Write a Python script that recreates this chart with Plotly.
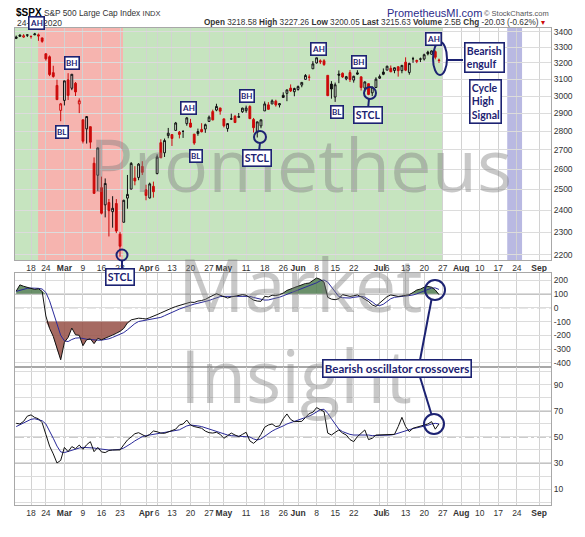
import numpy as np
import pandas as pd
import plotly.graph_objects as go

# ---------------- data ----------------
holidays = ['2020-02-17', '2020-04-10', '2020-05-25', '2020-07-03']
calendar = [d for d in pd.bdate_range('2020-02-11', '2020-09-04').strftime('%Y-%m-%d') if d not in holidays]

opens = [3365.87,3370.50,3365.90,3378.08,3369.04,3380.39,3380.45,3360.50,3257.61,3238.94,3139.90,3062.54,2916.90,
         2974.28,3096.46,3045.75,3075.70,2954.20,2863.89,2813.48,2825.60,2630.86,2569.99,2508.59,2425.66,2436.50,2393.48,2431.94,2290.71,2344.44,2457.77,2501.29,2555.87,2558.98,2614.69,
         2498.08,2458.54,2514.92,2578.28,2738.65,2685.00,2776.99,2782.46,2805.10,2795.64,2799.34,2842.43,2845.62,2784.81,2787.89,2810.42,2812.64,2854.65,2909.96,2918.46,2930.91,
         2869.09,2815.01,2868.88,2883.14,2878.26,2908.83,2915.46,2939.50,2865.86,2794.54,2829.95,2913.86,2948.59,2953.63,2969.95,2948.05,3004.08,3015.65,3046.61,3025.17,
         3038.78,3064.78,3098.90,3111.56,3163.84,3199.92,3213.32,3213.42,3123.53,3071.04,2993.76,3131.00,3136.13,3101.64,3140.29,3094.42,3138.70,3114.40,3046.60,3073.20,3018.59,3050.20,
         3105.92,3143.64,3155.29,3166.44,3153.07,3176.17,3152.47,3205.08,3141.11,3225.98,3208.36,3224.21,3224.29,3268.52,3254.86,3271.64,3218.58]
highs = [3375.63,3381.47,3385.09,3380.69,3375.01,3393.52,3389.15,3360.76,3259.81,3246.99,3182.51,3097.07,2959.72,
         3090.96,3136.72,3130.97,3083.04,2985.93,2863.89,2882.59,2825.60,2660.95,2711.33,2562.98,2553.93,2453.57,2466.97,2453.01,2300.73,2449.71,2571.42,2637.01,2615.91,2631.80,2641.39,
         2522.75,2533.22,2538.18,2676.85,2756.89,2760.75,2818.57,2782.46,2851.85,2801.88,2806.51,2879.22,2868.98,2785.54,2815.10,2844.90,2842.71,2887.72,2921.15,2954.86,2930.91,
         2869.09,2844.24,2898.23,2891.11,2901.92,2932.16,2944.25,2945.82,2874.14,2852.80,2865.01,2968.09,2964.21,2980.29,2978.50,2956.76,3021.72,3036.25,3068.67,3049.17,
         3062.18,3081.07,3130.94,3128.91,3211.72,3233.13,3222.71,3223.27,3123.53,3088.42,3079.76,3153.45,3141.16,3120.00,3155.53,3120.92,3154.90,3115.01,3086.25,3073.73,3053.89,3111.51,
         3128.44,3165.81,3182.59,3184.15,3171.80,3179.78,3186.82,3235.32,3200.95,3238.28,3220.39,3233.52,3258.61,3277.29,3279.32,3279.99,3227.26]
lows = [3352.72,3369.72,3360.52,3366.15,3355.61,3378.83,3341.02,3328.45,3214.65,3118.77,3108.99,2977.39,2855.84,
        2945.19,2976.63,3034.38,2999.83,2901.54,2734.43,2734.00,2707.22,2478.86,2492.37,2380.94,2367.04,2280.52,2319.78,2295.56,2191.86,2344.44,2407.53,2500.72,2520.02,2545.28,2571.15,
        2447.49,2455.79,2459.96,2574.57,2657.67,2663.30,2762.36,2721.17,2805.10,2761.54,2764.32,2830.88,2820.43,2727.10,2775.95,2794.26,2791.76,2852.89,2860.71,2912.16,2892.47,
        2821.61,2797.85,2863.55,2847.65,2876.48,2902.88,2903.44,2869.59,2793.15,2766.64,2816.78,2913.86,2922.35,2953.63,2938.57,2933.59,2988.17,2969.75,3023.40,2998.61,
        3031.54,3051.64,3098.90,3090.41,3163.84,3196.00,3193.11,3181.49,2999.49,2984.47,2965.66,3076.06,3108.03,3093.51,3083.11,3079.39,3127.12,3032.13,3024.01,3004.63,2999.74,3047.83,
        3101.17,3124.52,3155.29,3142.93,3136.53,3115.70,3136.22,3149.43,3127.66,3200.76,3198.59,3205.65,3215.16,3247.77,3253.10,3222.66,3200.05]
closes = [3357.75,3379.45,3373.94,3380.16,3370.29,3386.15,3373.23,3337.75,3225.89,3128.21,3116.39,2978.76,2954.22,
          3090.23,3003.37,3130.12,3023.94,2972.37,2746.56,2882.23,2741.38,2480.64,2711.02,2386.13,2529.19,2398.10,2409.39,2304.92,2237.40,2447.33,2475.56,2630.07,2541.47,2626.65,2584.59,
          2470.50,2526.90,2488.65,2663.68,2659.41,2749.98,2789.82,2761.63,2846.06,2783.36,2799.55,2874.56,2823.16,2736.56,2799.31,2797.80,2836.74,2878.48,2863.39,2939.51,2912.43,
          2830.71,2842.74,2868.44,2848.42,2881.19,2929.80,2930.32,2870.12,2820.00,2852.50,2863.70,2953.91,2922.94,2971.61,2948.51,2955.45,2991.77,3036.13,3029.73,3044.31,
          3055.73,3080.82,3122.87,3112.35,3193.93,3232.39,3207.18,3190.14,3002.10,3041.31,3066.59,3124.74,3113.49,3115.34,3097.74,3117.86,3131.29,3050.33,3083.76,3009.05,3053.24,3100.29,
          3115.86,3130.01,3179.72,3145.32,3169.94,3152.05,3185.04,3155.22,3197.52,3226.56,3215.57,3224.73,3251.84,3257.30,3276.02,3235.66,3215.63]

cci = [120,165,155,148,143,132,137,118,-60,-150,-208,-300,-377,-250,-215,-147,-196,-200,-275,-232,-225,-260,-222,-232,-222,-212,-198,-185,-171,-150,
       -110,-88,-82,-76,-78,-82,-72,-63,-50,-38,-25,-12,-2,8,15,25,34,40,38,48,52,60,75,88,101,90,78,70,78,85,90,94,90,72,55,48,46,82,78,90,
       88,94,106,125,135,150,158,165,175,178,195,215,205,185,75,62,58,65,94,88,82,86,92,78,62,45,20,9,34,55,80,92,88,82,85,88,94,110,128,135,148,154,148,128,94]
cci_signal = [118,125,135,140,142,142,140,135,110,50,-30,-120,-200,-240,-245,-230,-220,-218,-225,-228,-230,-235,-235,-235,-232,-225,-215,-205,-195,-180,
              -160,-135,-115,-100,-95,-92,-90,-85,-78,-70,-58,-45,-32,-20,-10,0,10,20,26,32,38,44,52,62,72,80,82,82,82,82,84,86,86,82,74,66,58,55,56,62,
              68,76,86,96,106,115,125,135,145,155,165,180,195,200,185,150,110,80,72,70,70,75,80,82,76,62,42,20,15,25,45,65,75,80,82,84,87,92,100,110,122,135,142,143,132]
rsi = [60.5,60,62,66,67,65,64,61,52,43,37,30,32,42,38.7,42.6,41,43.8,40.5,44,46.4,38.7,42,38.5,38,39.6,40,40,40,44,
       47.7,50,52.5,53.3,52,50.3,52,54.6,54,53,52.8,54,55.4,56,59.2,60,63,59.2,58,57.5,56.7,54.5,53.3,53,53.6,52,49,51,53,51.5,
       50.3,52,53.6,47,45.1,47.7,52,57.5,59.2,60,58,58.5,64,67.7,63.5,61.8,61.8,62,65,68,69,72.6,71,69.5,53,51.5,53.5,55.4,53,51.5,
       48,46.4,50.3,53,55.4,48,49,51.5,51.5,51.5,51.5,51.5,52,58,65.1,58,54.1,56.7,57.5,58,59,60,61.8,56,60]
rsi_signal = [58,59.5,61,62.5,63.6,64,63.5,62.5,60,55,49,43,38.5,38,39,40,41,41.5,42,42,42,41.5,41,40.5,40,40,40,40,40.5,41.5,
              43,45,47,49,50.3,51,51.5,52,52.5,53,53.3,53.5,54,54.5,55.5,57,58.5,59.2,59,58.5,58,57,56,55,54.1,53.2,52.3,51.5,51,50.8,
              50.5,50.5,50.5,50,48.5,47.7,48.5,50.5,52.8,54.5,56,57,58.5,60,61,61.8,62.5,63.5,64.5,66,67.5,69.5,71,71.3,68.2,64,60,56,54.1,53,
              52,51.5,51.5,51.5,52,51.5,51,51,51.5,51.5,51.5,51.5,52,53,54.1,55,56,56.5,57,57.5,58,59,60,60.5,60]

tick_dates = ['2020-02-18','2020-02-24','2020-03-02','2020-03-09','2020-03-16','2020-03-23','2020-04-01','2020-04-06',
              '2020-04-13','2020-04-20','2020-04-27','2020-05-01','2020-05-11','2020-05-18','2020-05-26','2020-06-01',
              '2020-06-08','2020-06-15','2020-06-22','2020-07-01','2020-07-06','2020-07-13','2020-07-20','2020-07-27',
              '2020-08-03','2020-08-10','2020-08-17','2020-08-24','2020-09-01']
tick_labels = ['18','24','<b>Mar</b>','9','16','23','<b>Apr</b>','6','13','20','27','<b>May</b>','11','18','26','<b>Jun</b>',
               '8','15','22','<b>Jul</b>','6','13','20','27','<b>Aug</b>','10','17','24','<b>Sep</b>']
price_ticks = [2200,2300,2400,2500,2600,2700,2800,2900,3000,3100,3200,3300,3400]
cci_ticks = [-400,-300,-200,-100,0,100,200]
rsi_ticks = [0,10,20,30,40,50,60,70,80,90,100]
rsi_tick_labels = ['','10','','30','','50','','70','','90','']

n = len(closes)
data_dates = calendar[:n]
pos = {d: i for i, d in enumerate(calendar)}
xs = np.array([pos[d] for d in data_dates])
tvals = [pos[d] for d in tick_dates]

o = np.array(opens); h = np.array(highs); l = np.array(lows); c = np.array(closes)
prev = np.concatenate([[c[0]], c[:-1]])

RED = '#cc0a0a'
NAVY = '#1c2272'
W, H = 585, 537
ML, MR, MT, MB = 15, 34, 28, 32
PW, PH = W - ML - MR, H - MT - MB


def X(px):
    return (px - ML) / PW


def Y(py):
    return (H - MB - py) / PH


fig = go.Figure()

# candles in four StockCharts styles
groups = [
    ((c >= o) & (c >= prev), '#111111', 'rgba(255,255,255,0.55)'),
    ((c >= o) & (c < prev), RED, 'rgba(255,255,255,0.55)'),
    ((c < o) & (c >= prev), '#111111', '#111111'),
    ((c < o) & (c < prev), RED, RED),
]
for mask, lc, fc in groups:
    idx = np.where(mask)[0]
    fig.add_trace(go.Candlestick(
        x=xs[idx], open=o[idx], high=h[idx], low=l[idx], close=c[idx],
        increasing=dict(line=dict(color=lc, width=1), fillcolor=fc),
        decreasing=dict(line=dict(color=lc, width=1), fillcolor=fc),
        whiskerwidth=0, showlegend=False, xaxis='x', yaxis='y', hoverinfo='skip'))

# CCI-style oscillator with fills beyond +/-100
cci_a = np.array(cci, dtype=float)
fig.add_trace(go.Scatter(x=xs, y=np.full(n, 100.0), mode='lines', line=dict(width=0), xaxis='x2', yaxis='y2',
                         showlegend=False, hoverinfo='skip'))
fig.add_trace(go.Scatter(x=xs, y=np.maximum(cci_a, 100), mode='lines', line=dict(width=0), fill='tonexty',
                         fillcolor='rgba(80,125,80,0.85)', xaxis='x2', yaxis='y2', showlegend=False, hoverinfo='skip'))
fig.add_trace(go.Scatter(x=xs, y=np.full(n, -100.0), mode='lines', line=dict(width=0), xaxis='x2', yaxis='y2',
                         showlegend=False, hoverinfo='skip'))
fig.add_trace(go.Scatter(x=xs, y=np.minimum(cci_a, -100), mode='lines', line=dict(width=0), fill='tonexty',
                         fillcolor='rgba(150,80,70,0.85)', xaxis='x2', yaxis='y2', showlegend=False, hoverinfo='skip'))
fig.add_trace(go.Scatter(x=xs, y=cci_signal, mode='lines', line=dict(color='#2a2a9a', width=1),
                         xaxis='x2', yaxis='y2', showlegend=False, hoverinfo='skip'))
fig.add_trace(go.Scatter(x=xs, y=cci, mode='lines', line=dict(color='#111111', width=1),
                         xaxis='x2', yaxis='y2', showlegend=False, hoverinfo='skip'))

# RSI-style oscillator
fig.add_trace(go.Scatter(x=xs, y=rsi_signal, mode='lines', line=dict(color='#2a2a9a', width=1),
                         xaxis='x3', yaxis='y3', showlegend=False, hoverinfo='skip'))
fig.add_trace(go.Scatter(x=xs, y=rsi, mode='lines', line=dict(color='#111111', width=1),
                         xaxis='x3', yaxis='y3', showlegend=False, hoverinfo='skip'))

xr = [-0.32, 144.2]
tickfont = dict(family='Liberation Sans, Arial', size=8.5, color='#333')
common_x = dict(range=xr, tickvals=tvals, ticktext=tick_labels, tickangle=0, showgrid=True, gridcolor='#d2d2d2',
                gridwidth=1, zeroline=False, showline=True, mirror=True, linecolor='#a8a8a8', ticks='', tickfont=tickfont)
common_y = dict(side='right', showgrid=True, gridcolor='#dcdcdc', zeroline=False, showline=True, mirror=True,
                linecolor='#a8a8a8', ticks='', tickfont=tickfont)

d_top = [Y(260), 1.0]
d_mid = [Y(367), Y(273)]
d_bot = [0.0, Y(367)]

fig.update_layout(
    width=W, height=H, margin=dict(l=ML, r=MR, t=MT, b=MB),
    paper_bgcolor='white', plot_bgcolor='white', showlegend=False, hovermode=False,
    xaxis=dict(common_x, anchor='y', domain=[0, 1], rangeslider=dict(visible=False)),
    xaxis2=dict(common_x, anchor='y2', domain=[0, 1], showticklabels=False),
    xaxis3=dict(common_x, anchor='y3', domain=[0, 1]),
    yaxis=dict(common_y, domain=d_top, type='log', range=[np.log10(2178), np.log10(3426)],
               tickvals=price_ticks, ticktext=[str(v) for v in price_ticks]),
    yaxis2=dict(common_y, domain=d_mid, range=[-429, 251], tickvals=cci_ticks,
                ticktext=[str(v) for v in cci_ticks]),
    yaxis3=dict(common_y, domain=d_bot, range=[-2.3, 103.8], tickvals=rsi_ticks, ticktext=rsi_tick_labels),
)

shapes = []
# background zones on price panel
zones = [
    (xr[0], pos['2020-07-27'], '#c6e4bf'),
    (pos['2020-02-20'] - 0.1, pos['2020-03-24'] - 0.2, '#f6b4af'),
    (pos['2020-08-19'] + 0.4, pos['2020-08-25'] + 0.4, '#b9b9e2'),
]
for x0, x1, col in zones:
    shapes.append(dict(type='rect', xref='x', yref='y domain', x0=x0, x1=x1, y0=0, y1=1,
                       fillcolor=col, line=dict(width=0), layer='below'))
# reference levels
for yv, dash, col in [(100, 'solid', '#8a8a8a'), (-100, 'solid', '#8a8a8a'), (0, 'dashdot', '#9a9a9a')]:
    shapes.append(dict(type='line', xref='x2 domain', yref='y2', x0=0, x1=1, y0=yv, y1=yv,
                       line=dict(color=col, width=1.2, dash=dash), layer='below'))
for yv, dash, col in [(70, 'solid', '#8a8a8a'), (30, 'solid', '#8a8a8a'), (50, 'dashdot', '#9a9a9a')]:
    shapes.append(dict(type='line', xref='x3 domain', yref='y3', x0=0, x1=1, y0=yv, y1=yv,
                       line=dict(color=col, width=1.2, dash=dash), layer='below'))


def circle(cx, cy, rx, ry=None):
    ry = rx if ry is None else ry
    return dict(type='circle', xref='paper', yref='paper', x0=X(cx - rx), x1=X(cx + rx), y0=Y(cy + ry), y1=Y(cy - ry),
                line=dict(color=NAVY, width=2), fillcolor='rgba(0,0,0,0)')


def seg(x0, y0, x1, y1):
    return dict(type='line', xref='paper', yref='paper', x0=X(x0), y0=Y(y0), x1=X(x1), y1=Y(y1),
                line=dict(color=NAVY, width=2))


shapes += [
    circle(122, 255, 5.5), seg(122, 260.5, 122, 270),
    circle(260, 137, 6), seg(260, 143, 259, 151),
    circle(370, 93, 6), seg(369, 99, 368, 109),
    circle(440, 58.5, 7, 16.5), seg(447, 60, 463, 60),
    circle(435, 290, 10), circle(434, 424, 10),
    seg(431.5, 299.5, 420, 360), seg(420, 377, 431.5, 414.5),
]
fig.update_layout(shapes=shapes)

ann = []
# watermark
for txt, cx, cy in [('Prometheus', 300, 163), ('Market', 300, 283), ('Insight', 296, 374)]:
    ann.append(dict(text=txt, x=X(cx), y=Y(cy), xref='paper', yref='paper', showarrow=False,
                    xanchor='center', yanchor='middle',
                    font=dict(family='Open Sans', size=74, color='rgba(125,125,125,0.42)')))

# header
chg = closes[-1] - closes[-2]
pct = chg / closes[-2] * 100
info = ('<b>Open</b> %.2f <b>High</b> %.2f <b>Low</b> %.2f <b>Last</b> %.2f <b>Volume</b> 2.5B <b>Chg</b> %.2f (%.2f%%) '
        '<span style="color:%s">▾</span>') % (opens[-1], highs[-1], lows[-1], closes[-1], chg, pct, RED)
hdr = [
    ('<b>$SPX</b>', 14, 12, 10, '#000', 'left'),
    ('S&amp;P 500 Large Cap Index <span style="font-size:7.5px">INDX</span>', 42, 13, 8.3, '#333', 'left'),
    ('24-Jul-2020', 15, 23, 8.5, '#333', 'left'),
    (info, 547, 22.5, 8.2, '#333', 'right'),
    ('PrometheusMI.com', 434, 13, 11, '#2b2b8a', 'center'),
    ('© StockCharts.com', 516, 13, 7.5, '#555', 'center'),
]
for txt, px, py, fs, col, anc in hdr:
    ann.append(dict(text=txt, x=X(px), y=Y(py), xref='paper', yref='paper', showarrow=False,
                    xanchor=anc, yanchor='middle', font=dict(family='Liberation Sans, Arial', size=fs, color=col)))

boxfont = 'Lato'
boxes = [
    ('AH', 36.5, 23, 8), ('BH', 72, 63, 8), ('BL', 62, 132, 8), ('AH', 188, 108, 8), ('BL', 196, 156, 8),
    ('BH', 247, 96, 8), ('AH', 318, 49, 8), ('BL', 337, 112, 8), ('BH', 359, 62, 8), ('AH', 433, 39, 8),
    ('STCL', 257, 158, 10.5), ('STCL', 368, 115, 10.5), ('STCL', 120, 277, 10.5),
    ('Bearish<br>engulf', 484.5, 58, 10.5), ('Cycle<br>High<br>Signal', 485, 101, 10.5),
    ('Bearish oscillator crossovers', 397, 368.5, 11.5),
]
for txt, cx, cy, fs in boxes:
    ann.append(dict(text='<b>' + txt + '</b>', x=X(cx), y=Y(cy), xref='paper', yref='paper', showarrow=False,
                    xanchor='center', yanchor='middle', align='left', bgcolor='white', bordercolor=NAVY,
                    borderwidth=1.6, borderpad=0.5 if fs < 10 else 1.2,
                    font=dict(family=boxfont, size=fs, color=NAVY)))

fig.update_layout(annotations=ann)

fig.write_html('out.html', config={'displayModeBar': False, 'staticPlot': True},
               post_script="document.body.style.margin='0';document.body.style.padding='0';")
